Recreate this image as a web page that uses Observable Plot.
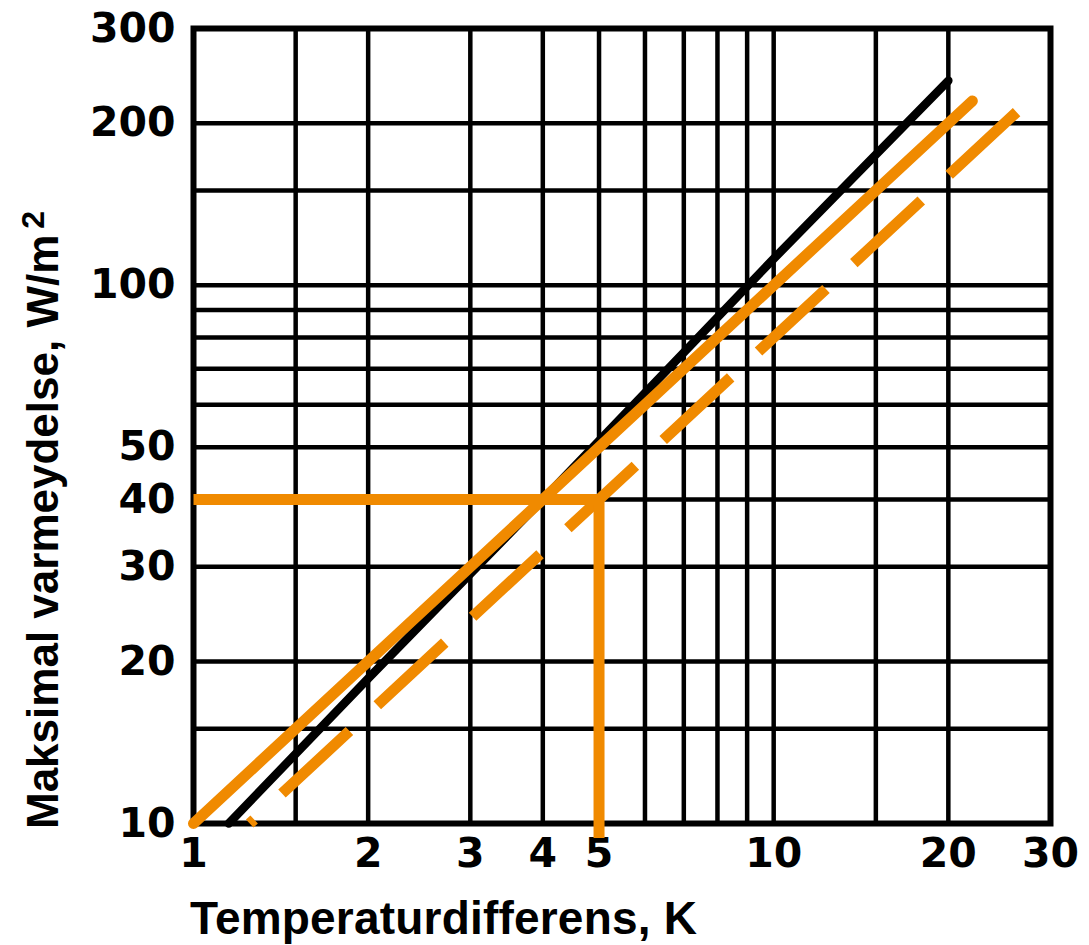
<!DOCTYPE html>
<html><head><meta charset="utf-8">
<script src="https://cdn.jsdelivr.net/npm/d3@7"></script>
<script src="https://cdn.jsdelivr.net/npm/@observablehq/plot@0.6"></script>
<style>body{margin:0;background:#fff}</style>
</head><body><div id="chart"></div>
<script>
// grid and ticks
const xGrid = [1, 1.5, 2, 3, 4, 5, 6, 7, 8, 9, 10, 15, 20, 30];
const yGrid = [10, 15, 20, 30, 40, 50, 60, 70, 80, 90, 100, 150, 200, 300];
const xTicks = [1, 2, 3, 4, 5, 10, 20, 30];
const yTicks = [10, 20, 30, 40, 50, 100, 200, 300];
// black curve
const blackX = [1.15, 2, 4, 10, 20];
const blackY = [10, 18.6, 40, 112, 240];
// orange solid line
const solidX = [1, 22];
const solidY = [10, 220];
// orange dashed line
const dashX = [1.25, 27];
const dashY = [10, 216];
// orange guide (40 W/m2 at 5 K)
const guideX = [1, 5, 5];
const guideY = [40, 40, 9.4];
// texts
const xTitle = "Temperaturdifferens, K";
const yTitle = "Maksimal varmeydelse, W/m";
const ySup = "2";

const orange = "#F08A00";
const pts = (xs, ys) => xs.map((x, i) => ({x, y: ys[i]}));

const plot = Plot.plot({
  width: 1089,
  height: 945,
  marginLeft: 193,
  marginRight: 39,
  marginTop: 28,
  marginBottom: 122,
  style: {fontFamily: "DejaVu Sans", fontSize: "41px", fontWeight: "bold", color: "#000", background: "#fff"},
  x: {type: "log", domain: [1, 30]},
  y: {type: "log", domain: [10, 300]},
  marks: [
    Plot.ruleX(xGrid, {stroke: "#000", strokeWidth: 4.5}),
    Plot.ruleY(yGrid, {stroke: "#000", strokeWidth: 4.5}),
    Plot.frame({stroke: "#000", strokeWidth: 6}),
    Plot.axisX(xTicks, {tickSize: 0, tickPadding: 14, tickFormat: d => String(d), label: null, fill: "#000"}),
    Plot.axisY(yTicks, {tickSize: 0, tickPadding: 18, tickFormat: d => String(d), label: null, fill: "#000"}),
    Plot.line(pts(blackX, blackY), {x: "x", y: "y", stroke: "#000", strokeWidth: 8.5}),
    Plot.line(pts(solidX, solidY), {x: "x", y: "y", stroke: orange, strokeWidth: 11}),
    Plot.line(pts(dashX, dashY), {x: "x", y: "y", stroke: orange, strokeWidth: 11, strokeDasharray: "92,38", strokeDashoffset: 86, strokeLinecap: "butt"}),
    Plot.line(pts(guideX, guideY), {x: "x", y: "y", stroke: orange, strokeWidth: 11, strokeLinejoin: "miter", strokeLinecap: "butt"})
  ]
});

const svg = d3.select(plot);
const fam = "'Liberation Sans', Arial, sans-serif";
svg.append("text")
  .attr("x", 190).attr("y", 934)
  .style("font-family", fam)
  .style("font-size", "46px").style("font-weight", "bold")
  .style("letter-spacing", "0.2px")
  .style("text-anchor", "start")
  .attr("fill", "#000")
  .text(xTitle);
const yt = svg.append("text")
  .attr("transform", "translate(58,829) rotate(-90)")
  .style("font-family", fam)
  .style("font-size", "44px").style("font-weight", "bold")
  .style("text-anchor", "start")
  .attr("fill", "#000");
yt.append("tspan").text(yTitle);
yt.append("tspan").attr("dx", 6).attr("dy", -14).style("font-size", "32px").text(ySup);

document.getElementById("chart").appendChild(plot);
</script>
</body></html>
